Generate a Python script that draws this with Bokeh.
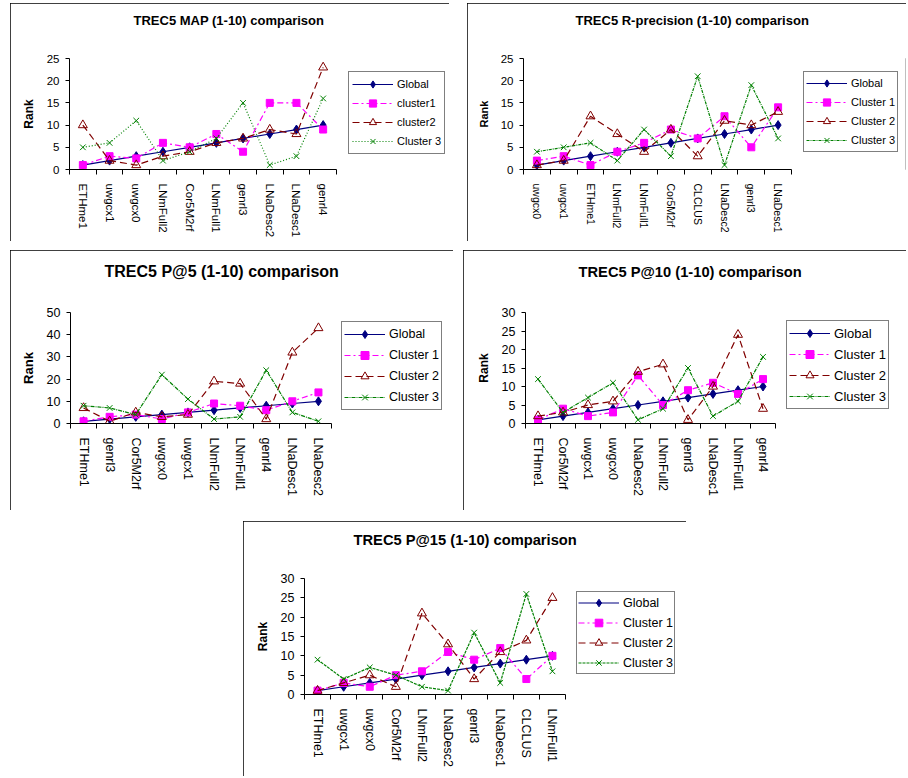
import math
from bokeh.plotting import figure
from bokeh.models import Range1d, FixedTicker, Legend, LegendItem, Spacer, InlineStyleSheet, Title
from bokeh.layouts import column, row
from bokeh.embed import file_html
from bokeh.resources import INLINE

FONT = "Liberation Sans"

# ---------------- data ----------------
map_cats = ["ETHme1", "uwgcx1", "uwgcx0", "LNmFull2", "Cor5M2rf", "LNmFull1", "genrl3", "LNaDesc2", "LNaDesc1", "genrl4"]
map_global = [1, 2, 3, 4, 5, 6, 7, 8, 9, 10]
map_c1 = [1, 3, 2.5, 6, 5, 8, 4, 15, 15, 9]
map_c2 = [10, 2, 1, 3, 4, 6, 7, 9, 8, 23]
map_c3 = [5, 6, 11, 2, 4, 7, 15, 1, 3, 16]

rp_cats = ["uwgcx0", "uwgcx1", "ETHme1", "LNmFull2", "LNmFull1", "Cor5M2rf", "CLCLUS", "LNaDesc2", "genrl3", "LNaDesc1"]
rp_global = [1, 2, 3, 4, 5, 6, 7, 8, 9, 10]
rp_c1 = [2, 3, 1, 4, 6, 9, 7, 12, 5, 14]
rp_c2 = [1, 2, 12, 8, 4, 9, 3, 11, 10, 13]
rp_c3 = [4, 5, 6, 2, 9, 3, 21, 1, 19, 7]

p5_cats = ["ETHme1", "genrl3", "Cor5M2rf", "uwgcx0", "uwgcx1", "LNmFull2", "LNmFull1", "genrl4", "LNaDesc1", "LNaDesc2"]
p5_global = [1, 2, 3, 4, 5, 6, 7, 8, 9, 10]
p5_c1 = [1, 3, 4, 2, 5, 9, 8, 6, 10, 14]
p5_c2 = [7, 1, 5, 3, 4, 19, 18, 2, 32, 43]
p5_c3 = [8, 7, 4, 22, 11, 2, 3, 24, 5, 1]

p10_cats = ["ETHme1", "Cor5M2rf", "uwgcx1", "uwgcx0", "LNaDesc2", "LNmFull2", "genrl3", "LNaDesc1", "LNmFull1", "genrl4"]
p10_global = [1, 2, 3, 4, 5, 6, 7, 8, 9, 10]
p10_c1 = [1, 4, 2, 3, 13, 5, 9, 11, 8, 12]
p10_c2 = [2, 3, 5, 6, 14, 16, 1, 10, 24, 4]
p10_c3 = [12, 3, 7, 11, 1, 4, 15, 2, 6, 18]

p15_cats = ["ETHme1", "uwgcx1", "uwgcx0", "Cor5M2rf", "LNmFull2", "LNaDesc2", "genrl3", "LNaDesc1", "CLCLUS", "LNmFull1"]
p15_global = [1, 2, 3, 4, 5, 6, 7, 8, 9, 10]
p15_c1 = [1, 3, 2, 5, 6, 11, 9, 12, 4, 10]
p15_c2 = [1, 3, 5, 2, 21, 13, 4, 11, 14, 25]
p15_c3 = [9, 4, 7, 5, 2, 1, 16, 3, 26, 6]

names_map = ["Global", "cluster1", "cluster2", "Cluster 3"]
names_std = ["Global", "Cluster 1", "Cluster 2", "Cluster 3"]

y_ticks_25 = [0, 5, 10, 15, 20, 25]
y_ticks_50 = [0, 10, 20, 30, 40, 50]
y_ticks_30 = [0, 5, 10, 15, 20, 25, 30]

BORDER_CSS = InlineStyleSheet(css=":host { outline: 1px solid black; outline-offset: -1px; }")
# bottom panel: its lower edge is cut off by the page edge in the original
BORDER_CSS_OPEN = InlineStyleSheet(css=":host { outline: 1px solid black; outline-offset: -1px; "
                                       "clip-path: inset(0px 0px 1px 0px); }")


def make_panel(title, cats, series, names, yticks, g, css):
    n = len(cats)
    full_w = g["w"] - g["bl"] - g["br"]          # whole plot area incl. legend zone
    dw = g["dw"]                                  # width used by the categories
    x_end = -0.5 + n * full_w / dw
    p = figure(width=g["w"], height=g["h"], title=None,
               x_range=Range1d(-0.5, x_end), y_range=Range1d(0, yticks[-1]),
               output_backend="svg", toolbar_location=None,
               min_border_left=g["bl"], min_border_right=g["br"],
               min_border_top=g["bt"], min_border_bottom=g["bb"])
    p.stylesheets = [css]
    p.background_fill_color = "white"
    p.border_fill_color = "white"
    p.outline_line_color = None
    p.grid.visible = False

    p.add_layout(Title(text=" ", text_font_size="1px", standoff=g["gap"]), "above")
    p.add_layout(Title(text=title, align="left", offset=g["toff"], standoff=0,
                       text_font=FONT, text_font_size=g["tfs"], text_font_style="bold",
                       text_color="black"), "above")

    xa = p.xaxis[0]
    xa.bounds = (-0.5, n - 0.5)
    xa.ticker = FixedTicker(ticks=list(range(n)), minor_ticks=[i - 0.5 for i in range(n + 1)])
    xa.major_label_overrides = {i: c for i, c in enumerate(cats)}
    xa.major_label_orientation = -math.pi / 2
    xa.major_tick_out = 0
    xa.major_tick_in = 0
    xa.minor_tick_out = 5
    xa.minor_tick_in = 0
    xa.minor_tick_line_color = "black"
    xa.axis_line_color = "black"
    xa.major_label_standoff = 9
    xa.major_label_text_font = FONT
    xa.major_label_text_font_size = g["xfs"]
    xa.major_label_text_color = "black"

    ya = p.yaxis[0]
    ya.ticker = FixedTicker(ticks=yticks)
    ya.major_tick_out = 4
    ya.major_tick_in = 0
    ya.minor_tick_line_color = None
    ya.axis_line_color = "black"
    ya.major_tick_line_color = "black"
    ya.major_label_standoff = 6
    ya.major_label_text_font = FONT
    ya.major_label_text_font_size = g["yfs"]
    ya.major_label_text_color = "black"
    ya.axis_label = "Rank"
    ya.axis_label_text_font = FONT
    ya.axis_label_text_font_style = "bold"
    ya.axis_label_text_font_size = g["rfs"]
    ya.axis_label_standoff = 8
    ya.axis_label_text_color = "black"

    styles = [
        dict(color="#000080", dash="solid", marker="diamond", size=9, fill="#000080"),
        dict(color="#FF00FF", dash="6 3 2 3", marker="square", size=7, fill="#FF00FF"),
        dict(color="#800000", dash="7 4", marker="triangle", size=9, fill=None),
        dict(color="#008000", dash=g["gdash"], marker="x", size=8, fill=None),
    ]
    xs = list(range(n))
    items = []
    for ys, name, st in zip(series, names, styles):
        lr = p.line(xs, ys, line_color=st["color"], line_dash=st["dash"], line_width=1.2)
        sr = p.scatter(xs, ys, marker=st["marker"], size=st["size"],
                       line_color=st["color"], fill_color=st["fill"], line_width=1)
        items.append(LegendItem(label=name, renderers=[lr, sr]))

    leg = Legend(items=items, location=(g["lgx"], g["lgy"]),
                 border_line_color="black", border_line_width=1,
                 background_fill_color="white", background_fill_alpha=1.0,
                 padding=g["lpad"], spacing=1, margin=0,
                 glyph_width=41, glyph_height=g["lih"], label_height=g["lih"],
                 label_standoff=4, label_text_font=FONT,
                 label_text_font_size=g["lfs"], label_text_color="black")
    p.add_layout(leg)
    return p


g1 = dict(w=439, h=238, bl=59, br=3, bt=55, bb=72, dw=267, toff=64, gap=28, tfs="13px",
          xfs="11.5px", yfs="11.5px", rfs="12px", lfs="11px", lih=18, lpad=3,
          lgx=279, lgy=15, gdash="1 2")
g2 = dict(w=439, h=238, bl=56, br=1, bt=55, bb=72, dw=268, toff=52, gap=28, tfs="13px",
          xfs="10.5px", yfs="11.5px", rfs="11px", lfs="11px", lih=18, lpad=2,
          lgx=280, lgy=17, gdash="3 1 1 1")
g3 = dict(w=443, h=260, bl=60, br=3, bt=62, bb=87, dw=261, toff=34, gap=30, tfs="16px",
          xfs="12.5px", yfs="12.5px", rfs="13px", lfs="12.5px", lih=20, lpad=2,
          lgx=271, lgy=13, gdash="4 1 1 1")
g4 = dict(w=443, h=260, bl=62, br=3, bt=62, bb=86, dw=250, toff=53, gap=30, tfs="14.7px",
          xfs="12.5px", yfs="12.5px", rfs="12px", lfs="13px", lih=20, lpad=2,
          lgx=261, lgy=14, gdash="4 1 1 1")
g5 = dict(w=443, h=256, bl=61, br=3, bt=57, bb=83, dw=261, toff=49, gap=28, tfs="14.7px",
          xfs="12.5px", yfs="12.5px", rfs="12px", lfs="12.5px", lih=19, lpad=1,
          lgx=272, lgy=20, gdash="3 1")

p1 = make_panel("TREC5 MAP (1-10) comparison", map_cats,
                [map_global, map_c1, map_c2, map_c3], names_map, y_ticks_25, g1, BORDER_CSS)
p2 = make_panel("TREC5 R-precision (1-10) comparison", rp_cats,
                [rp_global, rp_c1, rp_c2, rp_c3], names_std, y_ticks_25, g2, BORDER_CSS)
p3 = make_panel("TREC5 P@5 (1-10) comparison", p5_cats,
                [p5_global, p5_c1, p5_c2, p5_c3], names_std, y_ticks_50, g3, BORDER_CSS)
p4 = make_panel("TREC5 P@10 (1-10) comparison", p10_cats,
                [p10_global, p10_c1, p10_c2, p10_c3], names_std, y_ticks_30, g4, BORDER_CSS)
p5 = make_panel("TREC5 P@15 (1-10) comparison", p15_cats,
                [p15_global, p15_c1, p15_c2, p15_c3], names_std, y_ticks_30, g5, BORDER_CSS_OPEN)

layout = column(
    Spacer(width=10, height=3),
    row(Spacer(width=10, height=238), p1, Spacer(width=18, height=238), p2),
    Spacer(width=10, height=9),
    row(Spacer(width=10, height=260), p3, Spacer(width=10, height=260), p4),
    Spacer(width=10, height=11),
    row(Spacer(width=243, height=256), p5),
)

open("out.html", "w").write(file_html(layout, INLINE))
